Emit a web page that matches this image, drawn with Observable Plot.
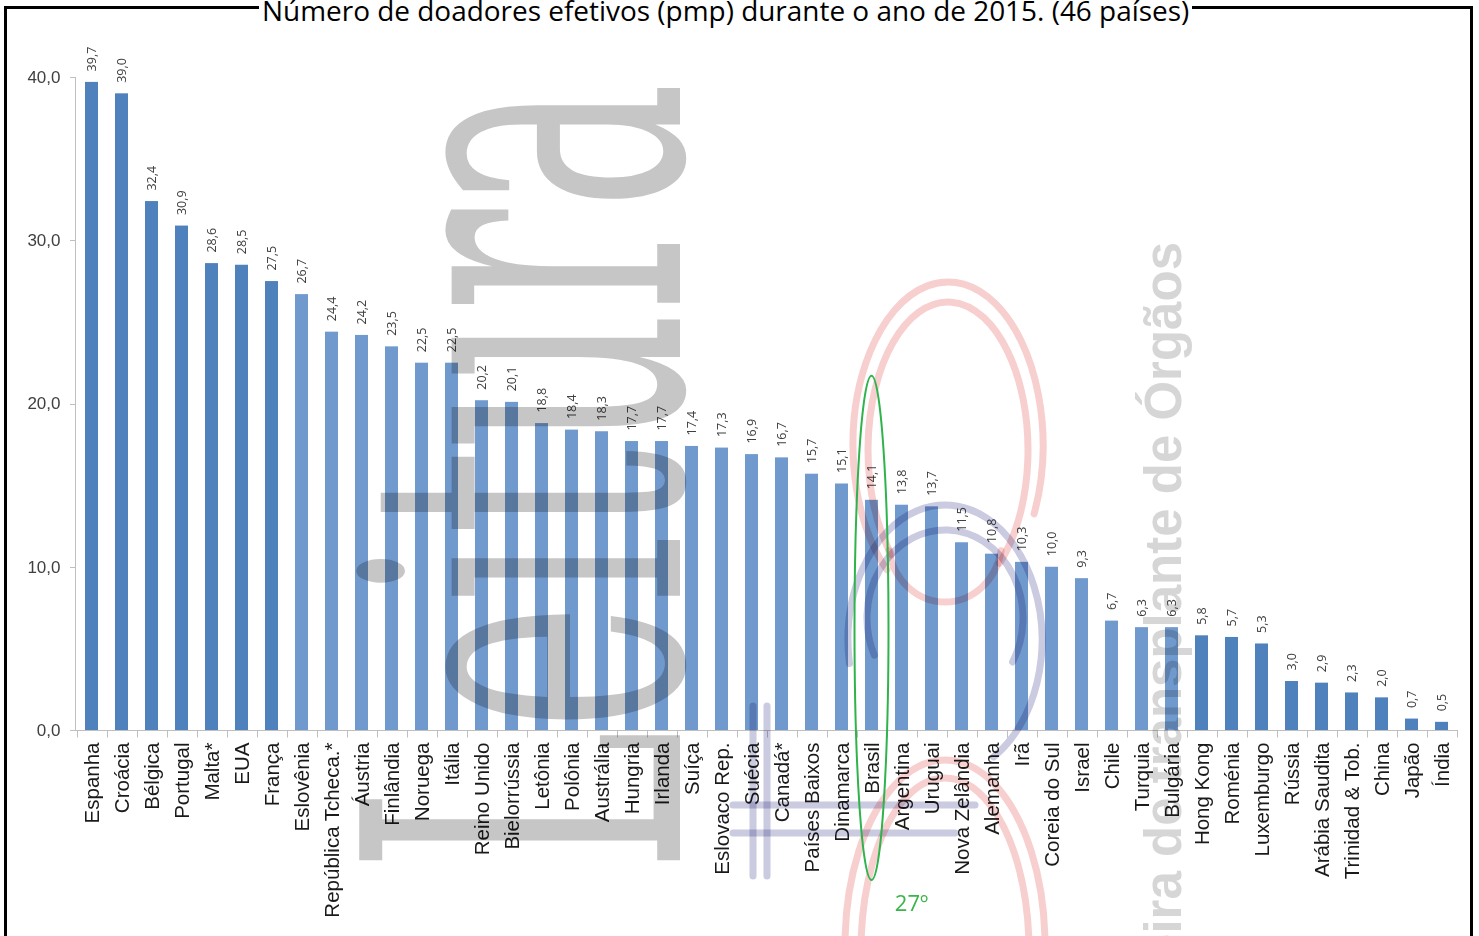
<!DOCTYPE html>
<html><head><meta charset="utf-8">
<script src="https://cdn.jsdelivr.net/npm/d3@7"></script>
<script src="https://cdn.jsdelivr.net/npm/@observablehq/plot@0.6"></script>
<style>
html,body{margin:0;padding:0;background:#fff;overflow:hidden;}
#wrap{position:relative;width:1479px;height:936px;overflow:hidden;}
#chart{position:absolute;left:0;top:0;z-index:1;}
#border{position:absolute;left:4px;top:6px;width:1463px;height:1000px;border:3px solid #000;pointer-events:none;z-index:2;}
#title{position:absolute;top:-2px;left:259px;white-space:nowrap;font-family:"Open Sans";font-size:24px;line-height:24px;color:#000;background:#fff;padding:0 3px;z-index:3;}
</style></head><body>
<div id="wrap"><div id="chart"></div><div id="border"></div><div id="title"><span id="tt">Número de doadores efetivos (pmp) durante o ano de 2015. (46 países)</span></div></div>
<script>
const countries = ["Espanha","Croácia","Bélgica","Portugal","Malta*","EUA","França","Eslovênia","República Tcheca.*","Áustria","Finlândia","Noruega","Itália","Reino Unido","Bielorrússia","Letônia","Polônia","Austrália","Hungria","Irlanda","Suíça","Eslovaco Rep.","Suécia","Canadá*","Países Baixos","Dinamarca","Brasil","Argentina","Uruguai","Nova Zelândia","Alemanha","Irã","Coreia do Sul","Israel","Chile","Turquia","Bulgária","Hong Kong","Roménia","Luxemburgo","Rússia","Arábia Saudita","Trinidad & Tob.","China","Japão","Índia"];
const values = [39.7,39.0,32.4,30.9,28.6,28.5,27.5,26.7,24.4,24.2,23.5,22.5,22.5,20.2,20.1,18.8,18.4,18.3,17.7,17.7,17.4,17.3,16.9,16.7,15.7,15.1,14.1,13.8,13.7,11.5,10.8,10.3,10.0,9.3,6.7,6.3,6.3,5.8,5.7,5.3,3.0,2.9,2.3,2.0,0.7,0.5];
const yTicks = [0,10,20,30,40];
const highlighted = "Brasil";
const highlightRank = "27º";

const data = countries.map((c, i) => ({country: c, value: values[i], i}));
const fmt = v => v.toFixed(1).replace(".", ",");
const DARK = "#4f81bd", LIGHT = "#7099cd";
const shade = d => (d.i >= 7 && d.i <= 36 ? LIGHT : DARK);

function bandInfo(x, dim) {
  const n = countries.length;
  const step = typeof x.step === "function" ? x.step() : (dim.width - dim.marginLeft - dim.marginRight) / n;
  const bw = typeof x.bandwidth === "function" ? x.bandwidth() : 0;
  return {step, bw};
}

function axesMark(index, scales, values, dim) {
  const x = scales.x, y = scales.y;
  const {step, bw} = bandInfo(x, dim);
  const g = d3.create("svg:g").attr("stroke", "#bfbfbf").attr("stroke-width", 1).attr("fill", "none");
  const left = dim.marginLeft, right = dim.width - dim.marginRight;
  const y0 = Math.round(y(0)) + 0.5;
  g.append("line").attr("x1", left + 0.5).attr("x2", left + 0.5).attr("y1", y(40)).attr("y2", y0);
  g.append("line").attr("x1", left - 5).attr("x2", right).attr("y1", y0).attr("y2", y0);
  for (const t of yTicks) {
    const yy = Math.round(y(t)) + 0.5;
    g.append("line").attr("x1", left - 5).attr("x2", left).attr("y1", yy).attr("y2", yy);
  }
  for (const c of countries) {
    const b = Math.round(x(c) + bw / 2 - step / 2) + 0.5;
    g.append("line").attr("x1", b).attr("x2", b).attr("y1", y0).attr("y2", y0 + 7);
  }
  g.append("line").attr("x1", right - 0.5).attr("x2", right - 0.5).attr("y1", y0).attr("y2", y0 + 7);
  return g.node();
}

function ellArc(g, cx, cy, rx, ry, a0, a1, color, w) {
  const r = a => a * Math.PI / 180;
  const p = a => [cx + rx * Math.sin(r(a)), cy - ry * Math.cos(r(a))];
  const [x0, y0] = p(a0), [x1, y1] = p(a1);
  const large = (a1 - a0) > 180 ? 1 : 0;
  g.append("path").attr("d", `M${x0},${y0}A${rx},${ry} 0 ${large} 1 ${x1},${y1}`)
    .attr("fill", "none").attr("stroke", color).attr("stroke-width", w).attr("stroke-linecap", "round")
    .style("mix-blend-mode", "multiply");
}

function watermarkMark(index, scales, values, dim) {
  const g = d3.create("svg:g").attr("pointer-events", "none");
  // big grey watermark word
  g.append("text").attr("transform", "translate(680,872) rotate(-90)")
    .attr("text-anchor", "start")
    .attr("font-family", "DejaVu Serif").attr("font-size", 440)
    .attr("textLength", 790).attr("lengthAdjust", "spacingAndGlyphs")
    .attr("fill", "#c6c6c6").style("mix-blend-mode", "multiply").text("Leitura");
  // association watermark
  g.append("text").attr("transform", "translate(1181,242) rotate(-90)")
    .attr("font-family", "Liberation Sans").attr("font-weight", "bold").attr("font-size", 51)
    .attr("text-anchor", "end").attr("fill", "#d6d6d6").style("mix-blend-mode", "multiply")
    .text("Associação Brasileira de transplante de Órgãos");
  // red rings
  const red = "#f7cfcf";
  ellArc(g, 948, 445, 95, 163, -140, 115, red, 7);
  ellArc(g, 948, 450, 80, 148, -135, 140, red, 7);
  ellArc(g, 945, 540, 57, 62, 100, 260, red, 7);
  ellArc(g, 945, 945, 100, 185, -179, 179, red, 7);
  ellArc(g, 945, 950, 84, 172, -179, 179, red, 7);
  // blue rings
  const blue = "#cacae0";
  ellArc(g, 945, 640, 97, 135, -100, 150, blue, 7);
  ellArc(g, 945, 618, 78, 88, -115, 120, blue, 7);
  for (const [x1, y1, x2, y2] of [[753, 706, 753, 876], [767, 706, 767, 876], [733, 805, 975, 805], [733, 833, 955, 833]]) {
    g.append("line").attr("x1", x1).attr("y1", y1).attr("x2", x2).attr("y2", y2)
      .attr("stroke", blue).attr("stroke-width", 7).attr("stroke-linecap", "round").style("mix-blend-mode", "multiply");
  }
  return g.node();
}

function highlightMark(index, scales, values, dim) {
  const x = scales.x, y = scales.y;
  const {bw} = bandInfo(x, dim);
  const cx = x(highlighted) + bw / 2;
  const top = y(21.7), bottom = y(0) + 150;
  const g = d3.create("svg:g");
  g.append("ellipse").attr("cx", cx).attr("cy", (top + bottom) / 2).attr("rx", 17).attr("ry", (bottom - top) / 2)
    .attr("fill", "none").attr("stroke", "#2fb34c").attr("stroke-width", 2);
  g.append("text").attr("x", cx + 40).attr("y", bottom + 31).attr("text-anchor", "middle")
    .attr("font-family", "Open Sans").attr("font-size", 22).attr("fill", "#3cb44b").text(highlightRank);
  return g.node();
}

const chart = Plot.plot({
  width: 1479, height: 936,
  marginLeft: 75, marginRight: 21, marginTop: 77, marginBottom: 206,
  style: {background: "transparent", overflow: "visible"},
  x: {domain: countries, paddingInner: 0.58, paddingOuter: 0.29, axis: null},
  y: {domain: [0, 40], axis: null},
  color: {type: "identity"},
  marks: [
    Plot.barY(data, {x: "country", y: "value", fill: shade}),
    axesMark,
    Plot.text(data, {x: "country", y: "value", text: d => fmt(d.value), rotate: -90, textAnchor: "start", lineAnchor: "middle", dy: -11, fontSize: 12.5, fontFamily: "Open Sans", fill: "#404040"}),
    Plot.text(data, {x: "country", y: () => 0, text: "country", rotate: -90, textAnchor: "end", lineAnchor: "middle", dy: 12, fontSize: 20.5, fontFamily: "Liberation Sans", fill: "#1a1a1a"}),
    Plot.text(yTicks, {y: d => d, text: d => fmt(d), frameAnchor: "left", textAnchor: "end", lineAnchor: "middle", dx: -15, fontSize: 17, fontFamily: "Liberation Sans", fill: "#404040"}),
    watermarkMark,
    highlightMark
  ]
});
document.getElementById("chart").appendChild(chart);

// fit title width to the reference span
const tt = document.getElementById("tt");
const w = tt.getBoundingClientRect().width;
const fs = 24 * 928 / w;
const title = document.getElementById("title");
title.style.fontSize = fs + "px";
title.style.left = (262 - 3) + "px";
</script>
</body></html>
